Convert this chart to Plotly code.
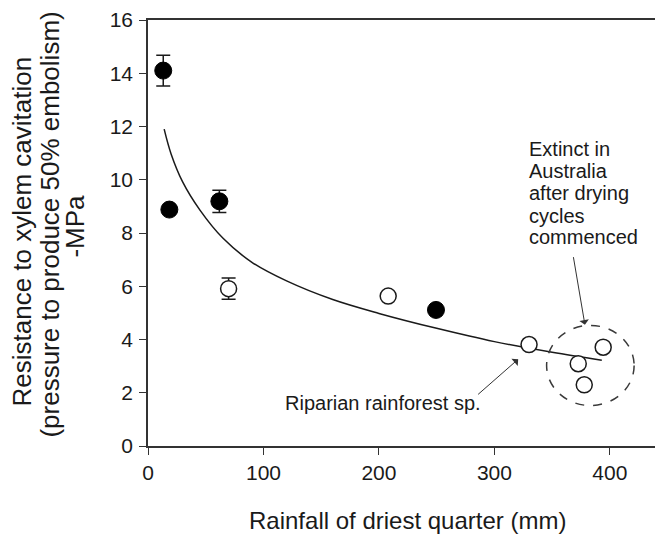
import plotly.graph_objects as go

# Data
filled_x = [13.2, 18.5, 61.8, 249.4]
filled_y = [14.1, 8.88, 9.19, 5.11]
filled_err = [0.58, 0.0, 0.42, 0.0]

open_x = [69.8, 208.0, 330.0, 394.2, 372.6, 377.8]
open_y = [5.91, 5.63, 3.81, 3.71, 3.09, 2.30]
open_err = [0.40, 0.0, 0.0, 0.0, 0.0, 0.0]

fit_x = [14, 20, 30, 45, 65, 90, 120, 160, 200, 250, 300, 350, 393]
fit_y = [11.9, 10.97, 9.92, 8.86, 7.8, 6.9, 6.2, 5.5, 4.98, 4.42, 3.92, 3.52, 3.22]

x_ticks = [0, 100, 200, 300, 400]
y_ticks = [0, 2, 4, 6, 8, 10, 12, 14, 16]

y_title_lines = ["Resistance to xylem cavitation", "(pressure to produce 50% embolism)", "-MPa"]
x_title = "Rainfall of driest quarter (mm)"
ext_lines = ["Extinct in", "Australia", "after drying", "cycles", "commenced"]

FONT = "Liberation Sans, Arial, sans-serif"
INK = "#1a1a1a"

# page body has 8px margin; figure is sized so that page matches the 663x535 window
W, H = 655, 527
ML, MT, MB = 140, 7, 89
PW, PH = W - ML, H - MT - MB


def px_x(page_x):
    return (page_x - 8 - ML) / PW


def px_y(page_y):
    return 1 - (page_y - 8 - MT) / PH


fig = go.Figure()

fig.add_trace(go.Scatter(
    x=fit_x, y=fit_y, mode="lines", line=dict(color=INK, width=1.5, shape="spline"),
    hoverinfo="skip", showlegend=False))

fig.add_trace(go.Scatter(
    x=filled_x, y=filled_y, mode="markers",
    marker=dict(size=17, color="black", line=dict(color="black", width=1)),
    error_y=dict(type="data", array=filled_err, visible=True, color=INK, thickness=1.5, width=7),
    showlegend=False))

fig.add_trace(go.Scatter(
    x=open_x, y=open_y, mode="markers",
    marker=dict(size=16, color="white", line=dict(color=INK, width=1.5)),
    error_y=dict(type="data", array=open_err, visible=True, color=INK, thickness=1.5, width=7),
    showlegend=False))

# dashed circle around extinct species
fig.add_shape(type="circle", xref="x", yref="y", x0=345.2, x1=421.0, y0=1.52, y1=4.53,
              line=dict(color="#3a3a3a", width=1.5, dash="dash"))

ann = []
ext_y_px = [146, 168, 190.5, 213, 235]
for t, py in zip(ext_lines, ext_y_px):
    ann.append(dict(x=px_x(527), y=px_y(py), xref="paper", yref="paper", text=t, showarrow=False,
                    xanchor="left", yanchor="middle", font=dict(size=20, color=INK, family=FONT)))

ann.append(dict(x=378.4, y=4.55, ax=368.2, ay=7.15, axref="x", ayref="y", xref="x", yref="y",
                text="", showarrow=True, arrowhead=1, arrowsize=1.6, arrowwidth=1, arrowcolor="#333"))
ann.append(dict(x=320.6, y=3.26, ax=284.6, ay=1.89, axref="x", ayref="y", xref="x", yref="y",
                text="", showarrow=True, arrowhead=1, arrowsize=1.6, arrowwidth=1, arrowcolor="#333"))
ann.append(dict(x=px_x(483), y=px_y(402), xref="paper", yref="paper", text="Riparian rainforest sp.",
                showarrow=False, xanchor="right", yanchor="middle",
                font=dict(size=20, color=INK, family=FONT)))

ann.append(dict(x=px_x(407), y=px_y(521), xref="paper", yref="paper", text=x_title,
                showarrow=False, xanchor="center", yanchor="middle",
                font=dict(size=24, color=INK, family=FONT)))

y_title_x = [22, 50, 75]
y_title_c = [229, 222, 224]
for t, xx, yy in zip(y_title_lines, y_title_x, y_title_c):
    ann.append(dict(x=px_x(xx), y=px_y(yy), xref="paper", yref="paper", text=t, showarrow=False,
                    textangle=-90, xanchor="center", yanchor="middle",
                    font=dict(size=26, color=INK, family=FONT)))

fig.update_layout(
    annotations=ann,
    width=W, height=H,
    margin=dict(l=ML, r=0, t=MT, b=MB, pad=0),
    paper_bgcolor="white", plot_bgcolor="white",
    font=dict(family=FONT, color=INK, size=21),
    xaxis=dict(range=[0, 446], tickvals=x_ticks, ticks="outside", ticklen=7, tickwidth=1.2,
               tickcolor="#333", showline=True, linecolor="#333", linewidth=1.5, mirror=True,
               showgrid=False, zeroline=False, tickfont=dict(size=21, color=INK),
               ticklabeloverflow="allow"),
    yaxis=dict(range=[0, 16], tickvals=y_ticks, ticks="outside", ticklen=7, tickwidth=1.2,
               tickcolor="#333", showline=True, linecolor="#333", linewidth=1.5,
               showgrid=False, zeroline=False, tickfont=dict(size=21, color=INK),
               ticklabelstandoff=2, ticklabeloverflow="allow"),
)

fig.write_html("out.html")
